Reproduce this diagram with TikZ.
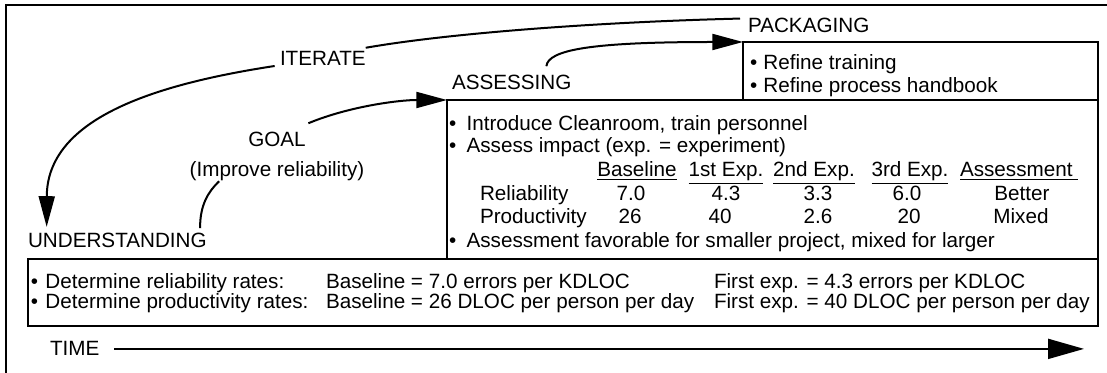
\documentclass[tikz,border=0pt]{standalone}
\usepackage{fontspec}
\setmainfont{Liberation Sans}
\usetikzlibrary{arrows.meta,fit}
\newcommand\bul{•\hspace{0.5em}}
\begin{document}
\begin{tikzpicture}[x=0.75pt,y=-0.75pt,
  every node/.style={inner sep=0pt, outer sep=0pt, font=\fontsize{15.5}{19}\selectfont},
  txt/.style={anchor=base west},
  ctr/.style={anchor=base},
  boxline/.style={draw, line width=1.7pt},
  conn/.style={line width=1.5pt},
  arr/.style={conn, -{Triangle[length=23pt,width=12pt]}},
  bigarr/.style={conn, -{Triangle[length=27pt,width=15pt]}},
  ]
\useasboundingbox (0,0) rectangle (1107,373);
\draw[line width=1.8pt] (6,373) -- (6,5) -- (1107,5);

% boxes
\node[boxline, fit={(743,42) (1098,100)}] (pbox) {};
\node[boxline, fit={(447,100) (1098,259)}] (abox) {};
\node[boxline, fit={(28,259) (1098,326)}] (ubox) {};

% packaging
\node[txt] (pkg) at (748,33) {PACKAGING};
\node[txt] (p1) at (750,70) {•\hspace{0.3em}Refine training};
\node[txt] (p2) at (750,92.5) {•\hspace{0.3em}Refine process handbook};

% assessing
\node[txt] (ass) at (452,90) {ASSESSING};
\node[txt] (a1) at (449,131) {\bul Introduce Cleanroom, train personnel};
\node[txt] (a2) at (449,153) {\bul Assess impact (exp. = experiment)};
\node[ctr] (hb) at (637,177) {\underline{Baseline}};
\node[ctr] (h1) at (726,177) {\underline{1st Exp.}};
\node[ctr] (h2) at (814,177) {\underline{2nd Exp.}};
\node[ctr] (h3) at (910,177) {\underline{3rd Exp.}};
\node[txt] (h4) at (960,177) {\underline{Assessment\hspace{4pt}}};
\node[txt] (rl) at (480,201) {Reliability};
\node[ctr] (r0) at (631,201) {7.0};
\node[ctr] (r1) at (726,201) {4.3};
\node[ctr] (r2) at (818,201) {3.3};
\node[ctr] (r3) at (907,201) {6.0};
\node[ctr] (r4) at (1022,201) {Better};
\node[txt] (pl) at (480,224) {Productivity};
\node[ctr] (q0) at (630,224) {26};
\node[ctr] (q1) at (720,224) {40};
\node[ctr] (q2) at (818,224) {2.6};
\node[ctr] (q3) at (909,224) {20};
\node[ctr] (q4) at (1021,224) {Mixed};
\node[txt] (a3) at (449,248) {\bul Assessment favorable for smaller project, mixed for larger};

% understanding
\node[txt] (und) at (28,248) {UNDERSTANDING};
\node[txt] (u1) at (31,289) {•\hspace{0.35em}Determine reliability rates:};
\node[txt] (u1b) at (326,289) {Baseline = 7.0 errors per KDLOC};
\node[txt] (u1c) at (714,289) {First exp. = 4.3 errors per KDLOC};
\node[txt] (u2) at (31,309) {•\hspace{0.35em}Determine productivity rates:};
\node[txt] (u2b) at (326,309) {Baseline = 26 DLOC per person per day};
\node[txt] (u2c) at (714,309) {First exp. = 40 DLOC per person per day};

% labels on connectors
\node[txt] (iter) at (280,66) {ITERATE};
\node[ctr] (goal) at (277,147) {GOAL};
\node[ctr] (goal2) at (277,177) {(Improve reliability)};

% time
\node[txt] (time) at (50,356) {TIME};
\coordinate (timeend) at (1084,349);
\draw[bigarr] ([xshift=11pt]time.east) -- (timeend |- time.east);

% ITERATE connector
\draw[conn] ([xshift=-6pt]pkg.north west) .. controls (600,22) and (450,33) .. ([yshift=3pt]iter.north east);
\draw[arr] ([xshift=-4pt]iter.south west) .. controls (150,85) and (47,120) .. ([xshift=14pt,yshift=5pt]und.north west);

% GOAL connector
\draw[conn] ([xshift=-5pt,yshift=4pt]und.north east) .. controls (200,205) and (208,192) .. ([xshift=22pt]goal2.south west);
\draw[arr] ([xshift=2pt,yshift=7pt]goal.north east) .. controls (350,106) and (400,100) .. (abox.north west);

% ASSESSING -> PACKAGING
\draw[arr] ([xshift=26pt,yshift=7pt]ass.north) .. controls (548,50) and (590,42) .. (pbox.north west);
\end{tikzpicture}
\end{document}
